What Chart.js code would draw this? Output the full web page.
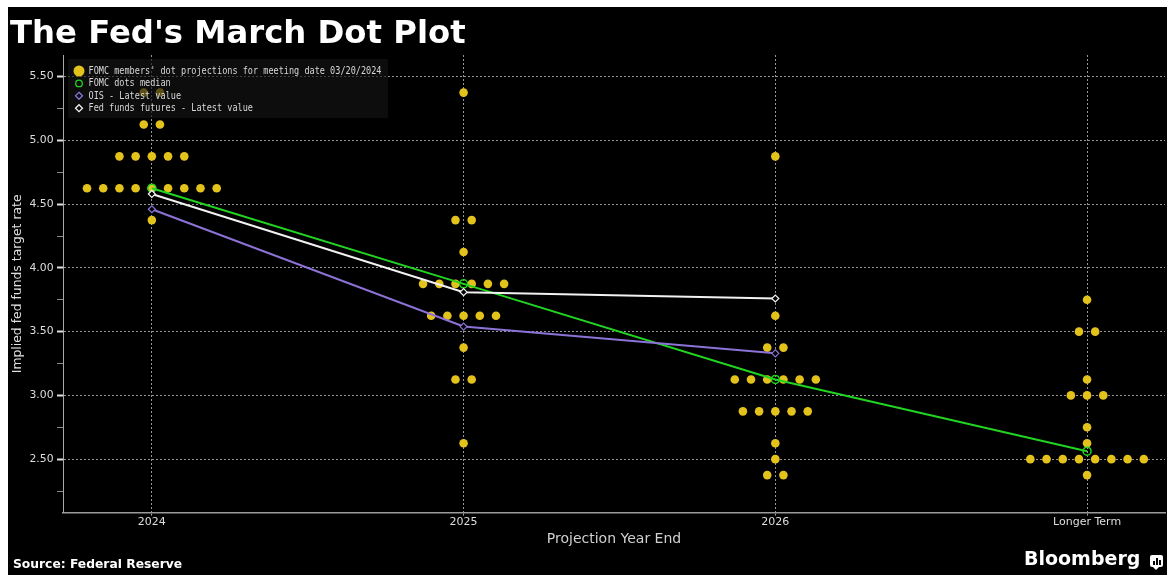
<!DOCTYPE html>
<html>
<head>
<meta charset="utf-8">
<title>The Fed's March Dot Plot</title>
<script src="https://cdn.jsdelivr.net/npm/chart.js@4.4.1/dist/chart.umd.min.js"></script>
<style>
  body { margin: 0; background: #fff; }
  #wrap { position: relative; width: 1173px; height: 588px; overflow: hidden; }
  #panel { position: absolute; left: 8px; top: 7px; width: 1159px; height: 568px; background: #000; }
  #holder { position: absolute; left: 0; top: 0; width: 1173px; height: 588px; }
  #title { position: absolute; left: 10px; top: 16px; font: bold 32.3px/32.3px "DejaVu Sans"; color: #fff; white-space: nowrap; }
  #source { position: absolute; left: 13px; top: 558px; font: bold 12.3px/12.3px "DejaVu Sans"; color: #fff; white-space: nowrap; }
  #brand { position: absolute; left: 1024px; top: 549px; font: bold 19px/19px "DejaVu Sans"; color: #fff; white-space: nowrap; }
  #icon { position: absolute; left: 1150px; top: 555px; width: 13px; height: 12px; background: #fff; border-radius: 2px; }
  #icon i { position: absolute; bottom: 2px; width: 2px; background: #000; }
  #tail { position: absolute; left: 1153px; top: 567px; width: 0; height: 0;
          border-left: 3px solid transparent; border-right: 3px solid transparent; border-top: 3px solid #fff; }
</style>
</head>
<body>
<div id="wrap">
  <div id="panel"></div>
  <div id="holder"><canvas id="dotChart"></canvas></div>
  <div id="title">The Fed's March Dot Plot</div>
  <div id="source">Source: Federal Reserve</div>
  <div id="brand">Bloomberg</div>
  <div id="icon"><i style="left:3px;height:4px"></i><i style="left:6px;height:7px"></i><i style="left:9px;height:5px"></i></div>
  <div id="tail"></div>
</div>
<script>
// categories on the x axis
const categories = ['2024', '2025', '2026', 'Longer Term'];

// FOMC dot projections: rate levels and how many members sit at each level
const dotRates2024 = [5.375, 5.125, 4.875, 4.625, 4.375];
const dotCounts2024 = [2, 2, 5, 9, 1];
const dotRates2025 = [5.375, 4.375, 4.125, 3.875, 3.625, 3.375, 3.125, 2.625];
const dotCounts2025 = [1, 2, 1, 6, 5, 1, 2, 1];
const dotRates2026 = [4.875, 3.625, 3.375, 3.125, 2.875, 2.625, 2.5, 2.375];
const dotCounts2026 = [1, 1, 2, 6, 5, 1, 1, 2];
const dotRatesLonger = [3.75, 3.5, 3.125, 3.0, 2.75, 2.625, 2.5, 2.375];
const dotCountsLonger = [1, 2, 1, 3, 1, 1, 8, 1];

// series lines
const medianValues = [4.625, 3.875, 3.125, 2.5625];
const oisValues = [4.46, 3.54, 3.33];
const futuresValues = [4.58, 3.81, 3.76];

// y tick positions (labels only on the half points)
const yTickValues = [2.25, 2.5, 2.75, 3.0, 3.25, 3.5, 3.75, 4.0, 4.25, 4.5, 4.75, 5.0, 5.25, 5.5];

const legendLabels = [
  "FOMC members' dot projections for meeting date 03/20/2024",
  'FOMC dots median',
  'OIS - Latest value',
  'Fed funds futures - Latest value'
];

const DOT_STEP = 0.052; // horizontal spacing between dots on one rate level
const GOLD = '#E4C21C';
const GREEN = '#22D422';
const PURPLE = '#8C72D6';
const WHITE = '#F2F2F2';

const dotRates = [dotRates2024, dotRates2025, dotRates2026, dotRatesLonger];
const dotCounts = [dotCounts2024, dotCounts2025, dotCounts2026, dotCountsLonger];

const dotPoints = [];
dotRates.forEach((rates, i) => {
  rates.forEach((rate, j) => {
    const n = dotCounts[i][j];
    for (let k = 0; k < n; k++) {
      dotPoints.push({ x: i + (k - (n - 1) / 2) * DOT_STEP, y: rate });
    }
  });
});

const toPoints = arr => arr.map((v, i) => ({ x: i, y: v }));

const isMajor = v => Math.abs(v * 2 - Math.round(v * 2)) < 1e-9;

// legend drawn inside the plot, top-left corner
const boxLegend = {
  id: 'boxLegend',
  afterDatasetsDraw(chart) {
    const { ctx, chartArea } = chart;
    const x0 = chartArea.left + 5;
    const y0 = chartArea.top + 4;
    ctx.save();
    ctx.fillStyle = 'rgba(20,20,20,0.66)';
    ctx.fillRect(x0, y0, 320, 59);

    ctx.font = '10px "DejaVu Sans Mono"';
    ctx.textBaseline = 'middle';
    const squeeze = 293 / ctx.measureText(legendLabels[0]).width;

    chart.data.datasets.forEach((ds, i) => {
      const cy = y0 + 12 + i * 12.4;
      const sx = x0 + 11;
      ctx.lineWidth = 1.3;
      if (i === 0) {
        ctx.fillStyle = GOLD;
        ctx.beginPath();
        ctx.arc(sx, cy, 5.5, 0, Math.PI * 2);
        ctx.fill();
      } else if (i === 1) {
        ctx.strokeStyle = GREEN;
        ctx.beginPath();
        ctx.arc(sx, cy, 3.3, 0, Math.PI * 2);
        ctx.stroke();
      } else {
        ctx.strokeStyle = i === 2 ? PURPLE : WHITE;
        ctx.beginPath();
        ctx.moveTo(sx, cy - 3.5);
        ctx.lineTo(sx + 3.5, cy);
        ctx.lineTo(sx, cy + 3.5);
        ctx.lineTo(sx - 3.5, cy);
        ctx.closePath();
        ctx.stroke();
      }
      ctx.save();
      ctx.translate(x0 + 20.5, cy + 0.5);
      ctx.scale(squeeze, 1);
      ctx.fillStyle = '#D8D8D8';
      ctx.fillText(ds.label, 0, 0);
      ctx.restore();
    });
    ctx.restore();
  }
};

const gridColor = 'rgba(200,200,200,0.75)';

new Chart(document.getElementById('dotChart'), {
  type: 'scatter',
  data: {
    datasets: [
      {
        label: legendLabels[0],
        data: dotPoints,
        pointRadius: 4.3,
        pointBackgroundColor: GOLD,
        pointBorderWidth: 0,
        order: 4
      },
      {
        label: legendLabels[1],
        type: 'line',
        data: toPoints(medianValues),
        borderColor: GREEN,
        borderWidth: 2,
        pointStyle: 'circle',
        pointRadius: 4,
        pointBorderWidth: 1.5,
        pointBackgroundColor: 'rgba(0,0,0,0)',
        order: 3
      },
      {
        label: legendLabels[2],
        type: 'line',
        data: toPoints(oisValues),
        borderColor: PURPLE,
        borderWidth: 2,
        pointStyle: 'rectRot',
        pointRadius: 3.5,
        pointBorderWidth: 1.2,
        pointBackgroundColor: '#000',
        order: 2
      },
      {
        label: legendLabels[3],
        type: 'line',
        data: toPoints(futuresValues),
        borderColor: WHITE,
        borderWidth: 2,
        pointStyle: 'rectRot',
        pointRadius: 3.5,
        pointBorderWidth: 1.2,
        pointBackgroundColor: '#000',
        order: 1
      }
    ]
  },
  options: {
    responsive: true,
    maintainAspectRatio: false,
    animation: false,
    layout: { padding: { top: 55, right: 8, left: 0, bottom: 35.3 } },
    plugins: {
      legend: { display: false },
      tooltip: { enabled: false }
    },
    scales: {
      x: {
        type: 'linear',
        min: -0.285,
        max: 3.25,
        afterBuildTicks: scale => { scale.ticks = categories.map((c, i) => ({ value: i })); },
        afterFit: scale => { scale.height = 40; },
        ticks: {
          callback: v => categories[v],
          color: '#DDDDDD',
          font: { family: 'DejaVu Sans', size: 11 },
          padding: 0,
          maxRotation: 0
        },
        grid: { color: gridColor, lineWidth: 1, tickLength: 3, tickColor: '#999' },
        border: { color: '#9A9A9A', width: 1.5, dash: [2, 2] },
        title: {
          display: true,
          text: 'Projection Year End',
          color: '#D0D0D0',
          font: { family: 'DejaVu Sans', size: 14 },
          padding: { top: 0, bottom: 5.3 }
        }
      },
      y: {
        min: 2.08,
        max: 5.67,
        afterBuildTicks: scale => { scale.ticks = yTickValues.map(v => ({ value: v })); },
        afterFit: scale => { scale.width = 63; },
        ticks: {
          callback: v => (isMajor(v) ? v.toFixed(2) : ''),
          color: '#DDDDDD',
          font: { family: 'DejaVu Sans', size: 10.8 },
          padding: 3.5
        },
        grid: {
          color: c => (isMajor(c.tick.value) ? gridColor : 'rgba(0,0,0,0)'),
          tickColor: c => (isMajor(c.tick.value) ? '#E0E0E0' : '#8A8A8A'),
          tickWidth: c => (isMajor(c.tick.value) ? 2 : 1),
          tickLength: 6
        },
        border: { color: '#A8A8A8', width: 1, dash: [2, 2] },
        title: {
          display: true,
          text: 'Implied fed funds target rate',
          color: '#E0E0E0',
          font: { family: 'DejaVu Sans', size: 12.4 },
          padding: { top: 10.4, bottom: 0 }
        }
      }
    }
  },
  plugins: [boxLegend]
});
</script>
</body>
</html>
